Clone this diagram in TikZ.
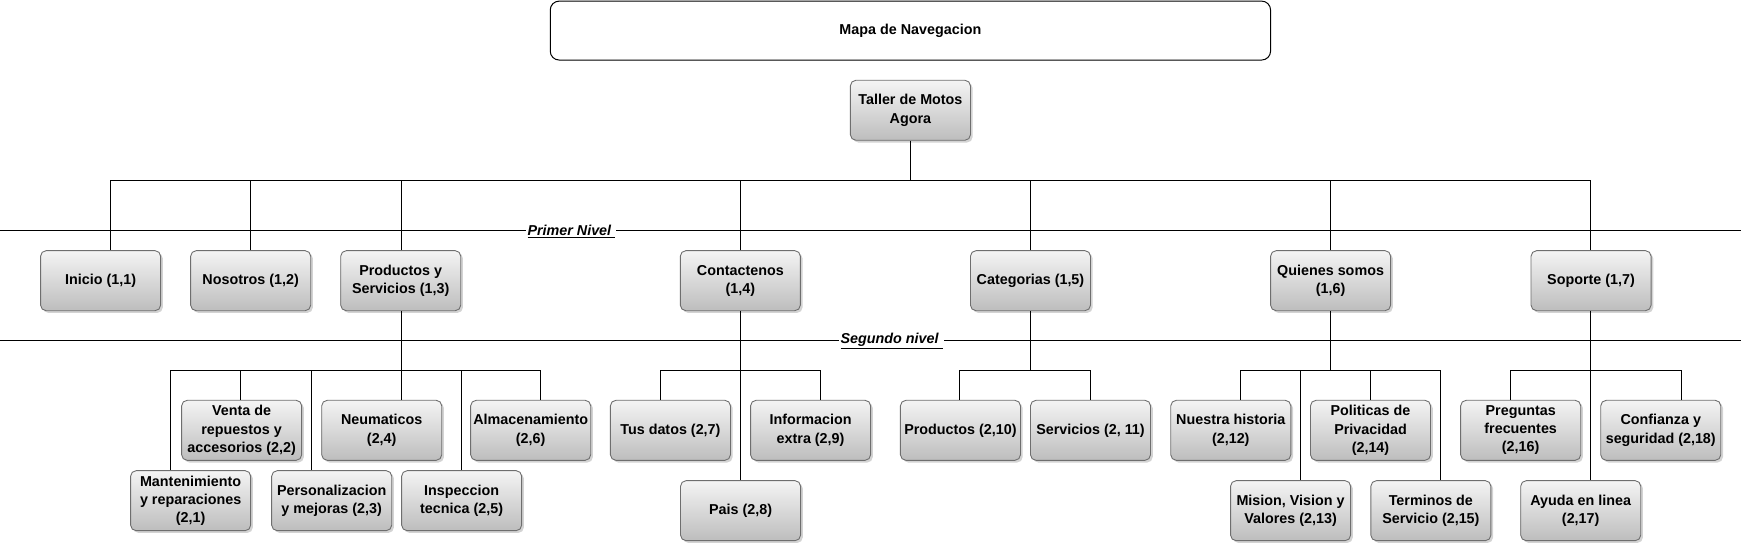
\documentclass[tikz,border=0pt]{standalone}
\usepackage{fontspec}
\setmainfont{Liberation Sans}
\usetikzlibrary{shadows}
\definecolor{boxtop}{HTML}{F4F4F4}
\definecolor{boxbot}{HTML}{BDBDBD}
\definecolor{boxline}{HTML}{6E6E6E}
\begin{document}
\begin{tikzpicture}[x=1pt,y=-1pt,
  pagebox/.style={draw=boxline, line width=0.8pt, rounded corners=5pt,
    top color=boxtop, bottom color=boxbot, minimum width=108pt, minimum height=54pt,
    inner sep=0pt, align=center, font=\fontsize{12.9}{16.4}\selectfont\bfseries,
    drop shadow={shadow xshift=2pt, shadow yshift=-2pt, opacity=0.35, fill=gray}},
  titlebox/.style={draw=black, line width=0.9pt, rounded corners=8pt, fill=white,
    minimum width=648pt, minimum height=53pt, inner sep=0pt,
    font=\fontsize{12.9}{16.4}\selectfont\bfseries},
  wire/.style={draw=black, line width=0.9pt},
  levelline/.style={draw=black, line width=1pt},
  levellabel/.style={fill=white, inner sep=1pt, font=\fontsize{12.9}{16.4}\selectfont\bfseries\itshape}]
\useasboundingbox (0,0) rectangle (1568,490);

% level separator lines
\coordinate (l1L) at (0,207.2);
\coordinate (l1R) at (1566,207.2);
\coordinate (l2L) at (0,306.2);
\coordinate (l2R) at (1566,306.2);
\draw[levelline] (l1L) -- (l1R);
\draw[levelline] (l2L) -- (l2R);

% title and root
\node[titlebox] (title) at (819,27.5) {Mapa de Navegacion};
\node[pagebox] (root) at (819,99.2) {Taller de Motos\\Agora};

% level 1
\node[pagebox] (inicio) at (90.5,252.5) {Inicio (1,1)};
\node[pagebox] (nosotros) at (225.5,252.5) {Nosotros (1,2)};
\node[pagebox] (productos) at (360.5,252.5) {Productos y\\Servicios (1,3)};
\node[pagebox] (contactenos) at (666,252.5) {Contactenos\\(1,4)};
\node[pagebox] (categorias) at (927,252.5) {Categorias (1,5)};
\node[pagebox] (quienes) at (1197,252.5) {Quienes somos\\(1,6)};
\node[pagebox] (soporte) at (1431.3,252.5) {Soporte (1,7)};

% level 2 : productos y servicios
\node[pagebox] (mant) at (171.5,450.4) {Mantenimiento\\y reparaciones\\(2,1)};
\node[pagebox] (venta) at (217.4,387.1) {Venta de\\repuestos y\\accesorios (2,2)};
\node[pagebox] (perso) at (298.4,450.4) {Personalizacion\\y mejoras (2,3)};
\node[pagebox] (neum) at (343.4,387.1) {Neumaticos\\(2,4)};
\node[pagebox] (insp) at (415.3,450.4) {Inspeccion\\tecnica (2,5)};
\node[pagebox] (alma) at (477.4,387.1) {Almacenamiento\\(2,6)};

% level 2 : contactenos
\node[pagebox] (tus) at (603.1,387.1) {Tus datos (2,7)};
\node[pagebox] (info) at (729.2,387.1) {Informacion\\extra (2,9)};
\node[pagebox] (pais) at (666.2,459.4) {Pais (2,8)};

% level 2 : categorias
\node[pagebox] (prod2) at (864,387.1) {Productos (2,10)};
\node[pagebox] (serv) at (981,387.1) {Servicios (2, 11)};

% level 2 : quienes somos
\node[pagebox] (nuestra) at (1107.2,387.1) {Nuestra historia\\(2,12)};
\node[pagebox] (mision) at (1161,459.4) {Mision, Vision y\\Valores (2,13)};
\node[pagebox] (politicas) at (1232.9,387.1) {Politicas de\\Privacidad\\(2,14)};
\node[pagebox] (terminos) at (1287.2,459.4) {Terminos de\\Servicio (2,15)};

% level 2 : soporte
\node[pagebox] (preguntas) at (1368,387.1) {Preguntas\\frecuentes\\(2,16)};
\node[pagebox] (confianza) at (1494,387.1) {Confianza y\\seguridad (2,18)};
\node[pagebox] (ayuda) at (1422,459.4) {Ayuda en linea\\(2,17)};

% bus coordinates, level 1
\coordinate (b1L) at (99,162.2);
\coordinate (b1R) at (1430.7,162.2);
\draw[wire] (b1L) -- (b1R);
\draw[wire] (root.south) -- (root.south |- b1L);
\draw[wire] (b1L) -- (b1L |- inicio.north);
\draw[wire] (nosotros.north) -- (nosotros.north |- b1L);
\draw[wire] ([xshift=0.5pt]productos.north) -- ([xshift=0.5pt]productos.north |- b1L);
\draw[wire] (contactenos.north) -- (contactenos.north |- b1L);
\draw[wire] (categorias.north) -- (categorias.north |- b1L);
\draw[wire] (quienes.north) -- (quienes.north |- b1L);
\draw[wire] (b1R) -- (b1R |- soporte.north);

% productos group
\coordinate (pA) at (153.5,333.2);
\coordinate (pB) at (216.5,333.2);
\coordinate (pC) at (280.1,333.2);
\coordinate (pD) at (415,333.2);
\coordinate (pE) at (486.4,333.2);
\draw[wire] (pA) -- (pE);
\draw[wire] ([xshift=0.5pt]productos.south) -- ([xshift=0.5pt]productos.south |- neum.north);
\draw[wire] (pA) -- (pA |- mant.north);
\draw[wire] (pB) -- (pB |- venta.north);
\draw[wire] (pC) -- (pC |- perso.north);
\draw[wire] (pD) -- (pD |- insp.north);
\draw[wire] (pE) -- (pE |- alma.north);

% contactenos group
\coordinate (cA) at (594.1,333.2);
\coordinate (cB) at (737.7,333.2);
\draw[wire] (cA) -- (cB);
\draw[wire] (contactenos.south) -- (contactenos.south |- pais.north);
\draw[wire] (cA) -- (cA |- tus.north);
\draw[wire] (cB) -- (cB |- info.north);

% categorias group
\coordinate (kA) at (863.6,333.2);
\coordinate (kB) at (980.6,333.2);
\draw[wire] (kA) -- (kB);
\draw[wire] (categorias.south) -- (categorias.south |- kA);
\draw[wire] (kA) -- (kA |- prod2.north);
\draw[wire] (kB) -- (kB |- serv.north);

% quienes group
\coordinate (qA) at (1116.2,333.2);
\coordinate (qB) at (1170.3,333.2);
\coordinate (qC) at (1232.9,333.2);
\coordinate (qD) at (1295.8,333.2);
\draw[wire] (qA) -- (qD);
\draw[wire] (quienes.south) -- (quienes.south |- qA);
\draw[wire] (qA) -- (qA |- nuestra.north);
\draw[wire] (qB) -- (qB |- mision.north);
\draw[wire] (qC) -- (qC |- politicas.north);
\draw[wire] (qD) -- (qD |- terminos.north);

% soporte group
\coordinate (sA) at (1358.8,333.2);
\coordinate (sB) at (1512.9,333.2);
\coordinate (sP) at (1430.7,279.5);
\draw[wire] (sA) -- (sB);
\draw[wire] (sP) -- (sP |- ayuda.north);
\draw[wire] (sA) -- (sA |- preguntas.north);
\draw[wire] (sB) -- (sB |- confianza.north);

% level labels
\node[levellabel] (lab1) at (514,208) {\underline{Primer Nivel\ }};
\node[levellabel] (lab2) at (802,306.5) {\underline{Segundo nivel\ }};
\end{tikzpicture}
\end{document}
